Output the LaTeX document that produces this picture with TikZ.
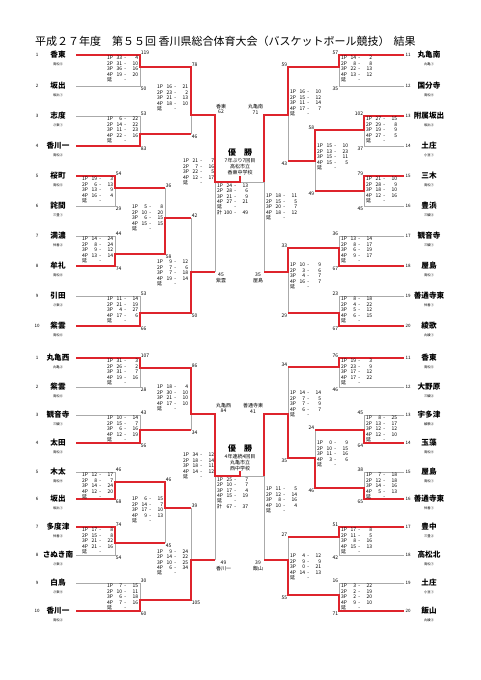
\documentclass[tikz,border=0pt]{standalone}
\usepackage{fontspec}
\setmainfont{Noto Sans CJK JP}
\definecolor{brred}{RGB}{222,36,44}
\definecolor{brgray}{RGB}{170,170,170}
\tikzset{
 gl/.style={draw=brgray,line width=0.5pt},
 rl/.style={draw=brred,line width=1.5pt,line join=miter},
 team/.style={font=\fontsize{7.6}{8}\selectfont\bfseries,inner sep=0pt},
 subl/.style={font=\fontsize{3.3}{3.5}\selectfont,inner sep=0pt},
 tnum/.style={font=\fontsize{4.5}{5}\selectfont,inner sep=0pt},
 scl/.style={font=\fontsize{5}{5}\selectfont,inner sep=0.7pt},
 scbox/.style={font=\fontsize{5}{5.4}\selectfont,align=left,inner sep=0pt,anchor=north west},
 semil/.style={font=\fontsize{5}{5.8}\selectfont,align=center,inner sep=0.8pt},
}
\newcommand\Qrow[3]{\makebox[6pt][l]{#1}\makebox[9pt][r]{#2}\makebox[6pt][c]{-}\makebox[10pt][r]{#3}}
\newcommand\Qrows[8]{\Qrow{1P}{#1}{#2}\\\Qrow{2P}{#3}{#4}\\\Qrow{3P}{#5}{#6}\\\Qrow{4P}{#7}{#8}\\\Qrow{延}{}{}}
\newcommand\Qbox[4]{\node[scbox] (#1) at (#2,#3) {#4};}
\newcommand\TeamL[5]{%
 \node[tnum] (#1n) at (37,#3) {#2};
 \node[team] (#1) at (58,#3) {#4};
 \node[subl] (#1s) at (58,#3+9) {#5};
 \coordinate (#1e) at (76,#3);}
\newcommand\TeamR[5]{%
 \node[tnum,anchor=west] (#1n) at (405.5,#3) {#2};
 \node[team] (#1) at (429,#3) {#4};
 \node[subl] (#1s) at (429,#3+9) {#5};
 \coordinate (#1e) at (404,#3);}
\newcommand\Brk[5]{\coordinate (#1t) at (#2,#3);\coordinate (#1b) at (#2,#4);\coordinate (#1x) at (#2,#5);}
\newcommand\ScL[3]{\node[scl,anchor=south west] (#1-1) at (#1t) {#2};\node[scl,anchor=north west] (#1-2) at (#1b) {#3};}
\newcommand\ScR[3]{\node[scl,anchor=south east] (#1-1) at (#1t) {#2};\node[scl,anchor=north east] (#1-2) at (#1b) {#3};}
\begin{document}
\begin{tikzpicture}[x=1pt,y=-1pt]
\fill[white] (0,0) rectangle (481,680);
\useasboundingbox (0,0) rectangle (481,680);
\node[anchor=west,font=\fontsize{11}{12}\selectfont,inner sep=0pt] (title) at (35,41) {平成２７年度　第５５回 香川県総合体育大会（バスケットボール競技）\hspace{4pt}結果};

% ---------------- top half teams
\TeamL{L1}{1}{55}{香東}{高松⑤}
\TeamL{L2}{2}{86}{坂出}{坂出①}
\TeamL{L3}{3}{116}{志度}{さ東①}
\TeamL{L4}{4}{146}{香川一}{高松②}
\TeamL{L5}{5}{176}{桜町}{高松⑤}
\TeamL{L6}{6}{206}{詫間}{三豊①}
\TeamL{L7}{7}{236}{満濃}{仲善②}
\TeamL{L8}{8}{266}{牟礼}{高松⑧}
\TeamL{L9}{9}{296}{引田}{さ東②}
\TeamL{L10}{10}{326}{紫雲}{高松⑥}
\TeamR{R11}{11}{55}{丸亀南}{丸亀①}
\TeamR{R12}{12}{86}{国分寺}{高松④}
\TeamR{R13}{13}{116}{附属坂出}{坂出③}
\TeamR{R14}{14}{146}{土庄}{小豆①}
\TeamR{R15}{15}{176}{三木}{高松⑦}
\TeamR{R16}{16}{206}{豊浜}{三観③}
\TeamR{R17}{17}{236}{観音寺}{三観①}
\TeamR{R18}{18}{266}{屋島}{高松①}
\TeamR{R19}{19}{296}{善通寺東}{仲善①}
\TeamR{R20}{20}{326}{綾歌}{丸綾①}

% top half brackets
\Brk{TLa}{140}{55}{86}{67}
\Brk{TLb}{140}{116}{146}{134}
\Brk{TLc}{115}{176}{206}{188}
\Brk{TLk}{115}{236}{266}{254}
\Brk{TLd}{165}{188}{254}{218}
\Brk{TLg}{140}{296}{326}{313}
\Brk{TLe}{191}{67}{134}{115}
\Brk{TLf}{191}{218}{313}{272}
\Brk{TLs}{215}{115}{272}{182}
\Brk{TRa}{339}{55}{86}{67}
\Brk{TRb}{364}{116}{146}{130}
\Brk{TRk}{364}{176}{206}{191}
\Brk{TRc}{315}{130}{191}{161}
\Brk{TRe}{288}{67}{161}{115}
\Brk{TRg}{339}{236}{266}{248}
\Brk{TRh}{339}{296}{326}{313}
\Brk{TRf}{288}{248}{313}{272}
\Brk{TRs}{264}{115}{272}{182}
\coordinate (TFc) at (240,182);
\coordinate (TFh) at (240,176);

\draw[gl] (L1e) -- (TLat) -- (TLab) -- (L2e);
\draw[gl] (L3e) -- (TLbt) -- (TLbb) -- (L4e);
\draw[gl] (L5e) -- (TLct) -- (TLcb) -- (L6e);
\draw[gl] (L7e) -- (TLkt) -- (TLkb) -- (L8e);
\draw[gl] (L9e) -- (TLgt) -- (TLgb) -- (L10e);
\draw[gl] (TLdt) -- (TLdb);
\draw[gl] (TLet) -- (TLeb);
\draw[gl] (TLft) -- (TLfb);
\draw[gl] (TLst) -- (TLsb);
\draw[gl] (R11e) -- (TRat) -- (TRab) -- (R12e);
\draw[gl] (R13e) -- (TRbt) -- (TRbb) -- (R14e);
\draw[gl] (R15e) -- (TRkt) -- (TRkb) -- (R16e);
\draw[gl] (R17e) -- (TRgt) -- (TRgb) -- (R18e);
\draw[gl] (R19e) -- (TRht) -- (TRhb) -- (R20e);
\draw[gl] (TRct) -- (TRcb);
\draw[gl] (TRet) -- (TReb);
\draw[gl] (TRft) -- (TRfb);
\draw[gl] (TRst) -- (TRsb);
\draw[gl] (TLsx) -- (TRsx);

\draw[rl] (L1e) -- (TLat) -- (TLax) -- (TLet) -- (TLex) -- (TLst) -- (TLsx) -- (TFc) -- (TFh);
\draw[rl] (L4e) -- (TLbb) -- (TLbx) -- (TLeb);
\draw[rl] (L5e) -- (TLct) -- (TLcx) -- (TLdt);
\draw[rl] (L8e) -- (TLkb) -- (TLkx) -- (TLdb) -- (TLdx) -- (TLft);
\draw[rl] (L10e) -- (TLgb) -- (TLgx) -- (TLfb) -- (TLfx) -- (TLsb);
\draw[rl] (R11e) -- (TRat) -- (TRax) -- (TRet) -- (TRex) -- (TRst) -- (TRsx);
\draw[rl] (R13e) -- (TRbt) -- (TRbx) -- (TRct) -- (TRcx) -- (TReb);
\draw[rl] (R15e) -- (TRkt) -- (TRkx) -- (TRcb);
\draw[rl] (R18e) -- (TRgb) -- (TRgx) -- (TRft) -- (TRfx) -- (TRsb);
\draw[rl] (R20e) -- (TRhb) -- (TRhx) -- (TRfb);

\ScL{TLa}{119}{50} \ScL{TLb}{53}{83} \ScL{TLc}{54}{29} \ScL{TLk}{44}{74}
\ScL{TLd}{36}{58} \ScL{TLg}{53}{66} \ScL{TLe}{78}{46} \ScL{TLf}{42}{50}
\ScR{TRa}{57}{35} \ScR{TRb}{102}{37} \ScR{TRk}{79}{45} \ScR{TRc}{58}{49}
\ScR{TRe}{59}{43} \ScR{TRg}{36}{67} \ScR{TRh}{23}{67} \ScR{TRf}{33}{29}
\node[semil,anchor=south west] (TLs-1) at (TLst) {香東\\62};
\node[semil,anchor=north west] (TLs-2) at (TLsb) {45\\紫雲};
\node[semil,anchor=south east] (TRs-1) at (TRst) {丸亀南\\71};
\node[semil,anchor=north east] (TRs-2) at (TRsb) {35\\屋島};

\Qbox{TLa-q}{107}{56}{\Qrows{33}{4}{31}{10}{36}{16}{19}{20}}
\Qbox{TLb-q}{107}{117}{\Qrows{6}{22}{14}{22}{11}{23}{22}{16}}
\Qbox{TLc-q}{82}{177}{\Qrows{19}{3}{6}{13}{13}{9}{16}{4}}
\Qbox{TLk-q}{82}{237}{\Qrows{14}{24}{8}{24}{9}{12}{13}{14}}
\Qbox{TLd-q}{132}{205}{\Qrows{5}{8}{10}{20}{6}{15}{15}{15}}
\Qbox{TLg-q}{107}{297}{\Qrows{11}{14}{21}{19}{4}{27}{17}{6}}
\Qbox{TLe-q}{157}{85}{\Qrows{16}{21}{23}{2}{21}{13}{18}{10}}
\Qbox{TLf-q}{157}{260}{\Qrows{9}{12}{7}{6}{7}{18}{19}{14}}
\Qbox{TLs-q}{183}{159}{\Qrows{21}{7}{7}{16}{22}{5}{12}{17}}
\Qbox{TF-q}{217}{183.5}{\Qrows{24}{13}{28}{6}{21}{9}{27}{21}\\\Qrow{計}{100}{49}}
\Qbox{TRs-q}{266}{194}{\Qrows{18}{11}{15}{5}{20}{7}{18}{12}}
\Qbox{TRa-q}{341}{56}{\Qrows{14}{2}{8}{8}{22}{13}{13}{12}}
\Qbox{TRb-q}{366}{117}{\Qrows{27}{15}{29}{8}{19}{9}{27}{5}}
\Qbox{TRk-q}{366}{177}{\Qrows{21}{10}{28}{9}{18}{10}{12}{16}}
\Qbox{TRc-q}{317}{144}{\Qrows{15}{10}{13}{23}{15}{11}{15}{5}}
\Qbox{TRe-q}{290}{90}{\Qrows{16}{10}{15}{12}{11}{14}{17}{7}}
\Qbox{TRg-q}{341}{237}{\Qrows{13}{14}{8}{17}{6}{19}{9}{17}}
\Qbox{TRh-q}{341}{297}{\Qrows{8}{18}{4}{22}{5}{12}{6}{15}}
\Qbox{TRf-q}{290}{263}{\Qrows{10}{9}{3}{6}{4}{7}{16}{7}}

\node[font=\fontsize{8}{8}\selectfont\bfseries,inner sep=0pt] (TCh) at (240,152) {優　勝};
\node[font=\fontsize{5}{6}\selectfont,align=center,inner sep=0pt] (TChs) at (240,167) {7年ぶり7回目\\高松市立\\香東中学校};

% ---------------- bottom half teams
\TeamL{BL1}{1}{358}{丸亀西}{丸亀②}
\TeamL{BL2}{2}{387}{紫雲}{高松⑥}
\TeamL{BL3}{3}{415}{観音寺}{三観①}
\TeamL{BL4}{4}{443}{太田}{高松③}
\TeamL{BL5}{5}{472}{木太}{高松⑨}
\TeamL{BL6}{6}{499}{坂出}{坂出①}
\TeamL{BL7}{7}{527}{多度津}{仲善③}
\TeamL{BL8}{8}{555}{さぬき南}{さ東③}
\TeamL{BL9}{9}{583}{白鳥}{さ東④}
\TeamL{BL10}{10}{611}{香川一}{高松②}
\TeamR{BR11}{11}{358}{香東}{高松⑤}
\TeamR{BR12}{12}{387}{大野原}{三観②}
\TeamR{BR13}{13}{415}{宇多津}{綾歌②}
\TeamR{BR14}{14}{443}{玉藻}{高松④}
\TeamR{BR15}{15}{472}{屋島}{高松①}
\TeamR{BR16}{16}{499}{善通寺東}{仲善①}
\TeamR{BR17}{17}{527}{豊中}{三豊②}
\TeamR{BR18}{18}{555}{高松北}{高松⑦}
\TeamR{BR19}{19}{583}{土庄}{小豆①}
\TeamR{BR20}{20}{611}{飯山}{丸綾③}

\Brk{BLa}{140}{358}{387}{368}
\Brk{BLb}{140}{415}{443}{430}
\Brk{BLc}{115}{472}{499}{482}
\Brk{BLk}{115}{527}{555}{543}
\Brk{BLd}{165}{482}{543}{508}
\Brk{BLg}{140}{583}{611}{600}
\Brk{BLe}{191}{368}{430}{414}
\Brk{BLf}{191}{508}{600}{560}
\Brk{BLs}{215}{414}{560}{476}
\Brk{BRa}{339}{358}{387}{367}
\Brk{BRb}{364}{415}{443}{430}
\Brk{BRk}{364}{472}{499}{488}
\Brk{BRc}{315}{430}{488}{458}
\Brk{BRe}{288}{367}{458}{414}
\Brk{BRg}{339}{527}{555}{537}
\Brk{BRh}{339}{583}{611}{595}
\Brk{BRf}{288}{537}{595}{560}
\Brk{BRs}{264}{414}{560}{476}
\coordinate (BFc) at (240,476);
\coordinate (BFh) at (240,471);

\draw[gl] (BL1e) -- (BLat) -- (BLab) -- (BL2e);
\draw[gl] (BL3e) -- (BLbt) -- (BLbb) -- (BL4e);
\draw[gl] (BL5e) -- (BLct) -- (BLcb) -- (BL6e);
\draw[gl] (BL7e) -- (BLkt) -- (BLkb) -- (BL8e);
\draw[gl] (BL9e) -- (BLgt) -- (BLgb) -- (BL10e);
\draw[gl] (BLdt) -- (BLdb);
\draw[gl] (BLet) -- (BLeb);
\draw[gl] (BLft) -- (BLfb);
\draw[gl] (BLst) -- (BLsb);
\draw[gl] (BR11e) -- (BRat) -- (BRab) -- (BR12e);
\draw[gl] (BR13e) -- (BRbt) -- (BRbb) -- (BR14e);
\draw[gl] (BR15e) -- (BRkt) -- (BRkb) -- (BR16e);
\draw[gl] (BR17e) -- (BRgt) -- (BRgb) -- (BR18e);
\draw[gl] (BR19e) -- (BRht) -- (BRhb) -- (BR20e);
\draw[gl] (BRct) -- (BRcb);
\draw[gl] (BRet) -- (BReb);
\draw[gl] (BRft) -- (BRfb);
\draw[gl] (BRst) -- (BRsb);
\draw[gl] (BLsx) -- (BRsx);

\draw[rl] (BL1e) -- (BLat) -- (BLax) -- (BLet) -- (BLex) -- (BLst) -- (BLsx) -- (BFc) -- (BFh);
\draw[rl] (BL4e) -- (BLbb) -- (BLbx) -- (BLeb);
\draw[rl] (BL6e) -- (BLcb) -- (BLcx) -- (BLdt) -- (BLdx) -- (BLft);
\draw[rl] (BL7e) -- (BLkt) -- (BLkx) -- (BLdb);
\draw[rl] (BL10e) -- (BLgb) -- (BLgx) -- (BLfb) -- (BLfx) -- (BLsb);
\draw[rl] (BR11e) -- (BRat) -- (BRax) -- (BRet);
\draw[rl] (BR14e) -- (BRbb) -- (BRbx) -- (BRct);
\draw[rl] (BR16e) -- (BRkb) -- (BRkx) -- (BRcb) -- (BRcx) -- (BReb) -- (BRex) -- (BRst) -- (BRsx);
\draw[rl] (BR17e) -- (BRgt) -- (BRgx) -- (BRft);
\draw[rl] (BR20e) -- (BRhb) -- (BRhx) -- (BRfb) -- (BRfx) -- (BRsb);

\ScL{BLa}{107}{28} \ScL{BLb}{43}{56} \ScL{BLc}{46}{68} \ScL{BLk}{74}{54}
\ScL{BLd}{46}{45} \ScL{BLg}{30}{60} \ScL{BLe}{86}{34} \ScL{BLf}{39}{105}
\ScR{BRa}{76}{46} \ScR{BRb}{45}{64} \ScR{BRk}{38}{65} \ScR{BRc}{24}{46}
\ScR{BRe}{34}{35} \ScR{BRg}{51}{42} \ScR{BRh}{16}{71} \ScR{BRf}{27}{55}
\node[semil,anchor=south west] (BLs-1) at (BLst) {丸亀西\\84};
\node[semil,anchor=north west] (BLs-2) at (BLsb) {49\\香川一};
\node[semil,anchor=south east] (BRs-1) at (BRst) {善通寺東\\41};
\node[semil,anchor=north east] (BRs-2) at (BRsb) {39\\飯山};

\Qbox{BLa-q}{107}{359}{\Qrows{31}{3}{26}{2}{31}{7}{19}{16}}
\Qbox{BLb-q}{107}{416}{\Qrows{10}{14}{15}{7}{6}{16}{12}{19}}
\Qbox{BLc-q}{82}{473}{\Qrows{12}{17}{8}{7}{14}{24}{12}{20}}
\Qbox{BLk-q}{82}{528}{\Qrows{17}{8}{15}{8}{21}{22}{21}{16}}
\Qbox{BLd-q}{132}{497}{\Qrows{6}{15}{14}{7}{17}{10}{9}{13}}
\Qbox{BLg-q}{107}{584}{\Qrows{7}{15}{10}{11}{6}{18}{7}{16}}
\Qbox{BLe-q}{157}{385}{\Qrows{18}{4}{30}{10}{21}{10}{17}{10}}
\Qbox{BLf-q}{157}{549.5}{\Qrows{9}{24}{14}{22}{10}{25}{6}{34}}
\Qbox{BLs-q}{183}{453}{\Qrows{34}{12}{18}{14}{18}{11}{14}{12}}
\Qbox{BF-q}{217}{477.5}{\Qrows{25}{7}{10}{7}{17}{4}{15}{19}\\\Qrow{計}{67}{37}}
\Qbox{BRs-q}{266}{487}{\Qrows{11}{5}{12}{14}{8}{16}{10}{4}}
\Qbox{BRa-q}{341}{359}{\Qrows{19}{3}{23}{9}{17}{12}{17}{22}}
\Qbox{BRb-q}{366}{416}{\Qrows{8}{25}{13}{17}{12}{12}{12}{10}}
\Qbox{BRk-q}{366}{473}{\Qrows{7}{18}{12}{18}{14}{16}{5}{13}}
\Qbox{BRc-q}{317}{441}{\Qrows{0}{9}{10}{15}{11}{16}{3}{6}}
\Qbox{BRe-q}{290}{391}{\Qrows{14}{14}{7}{5}{7}{9}{6}{7}}
\Qbox{BRg-q}{341}{528}{\Qrows{17}{8}{11}{5}{8}{16}{15}{13}}
\Qbox{BRh-q}{341}{584}{\Qrows{3}{22}{2}{19}{2}{20}{9}{10}}
\Qbox{BRf-q}{290}{554}{\Qrows{4}{12}{9}{9}{0}{21}{14}{13}}

\node[font=\fontsize{8}{8}\selectfont\bfseries,inner sep=0pt] (BCh) at (240,448) {優　勝};
\node[font=\fontsize{5}{6}\selectfont,align=center,inner sep=0pt] (BChs) at (240,463) {4年連続4回目\\丸亀市立\\西中学校};
\end{tikzpicture}
\end{document}
